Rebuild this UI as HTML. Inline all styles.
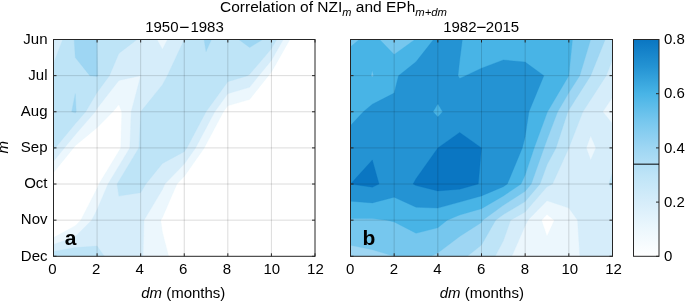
<!DOCTYPE html>
<html><head><meta charset="utf-8"><style>html,body{margin:0;padding:0;background:#fff;width:685px;height:301px;overflow:hidden}svg{display:block;will-change:transform}</style></head>
<body><svg width="685" height="301" viewBox="0 0 685 301" font-family="Liberation Sans, sans-serif" font-size="15" fill="#000">
<rect width="685" height="301" fill="#fff"/>
<clipPath id="ca"><rect x="53.5" y="39.5" width="261.5" height="216.8"/></clipPath>
<g clip-path="url(#ca)">
<rect x="53.5" y="39.5" width="261.5" height="216.8" fill="#ffffff"/>
<path d="M75.29 39.50L97.08 39.50L118.88 39.50L140.67 39.50L162.46 39.50L184.25 39.50L206.04 39.50L227.83 39.50L249.62 39.50L271.42 39.50L289.91 39.50L271.42 72.14L268.51 75.63L249.62 99.52L227.83 105.74L223.47 111.77L206.04 144.62L204.30 147.90L184.25 176.56L176.99 184.03L162.46 217.39L160.78 220.17L162.46 232.21L168.68 256.30L162.46 256.30L140.67 256.30L118.88 256.30L97.08 256.30L75.29 256.30L53.50 256.30L53.50 237.54L75.29 225.64L80.74 220.17L97.08 188.28L98.90 184.03L118.88 150.91L120.69 147.90L121.72 111.77L118.88 104.54L112.93 111.77L97.08 127.83L75.29 145.71L73.48 147.90L53.50 172.74L53.50 147.90L53.50 111.77L53.50 75.63L53.50 39.50Z" fill="#ecf7fd" stroke="#ecf7fd" stroke-width="0.3" fill-rule="evenodd"/>
<path d="M75.29 39.50L97.08 39.50L118.88 39.50L140.67 39.50L157.01 39.50L162.46 49.35L167.49 39.50L184.25 39.50L206.04 39.50L227.83 39.50L249.62 39.50L271.42 39.50L283.30 39.50L271.42 60.48L258.83 75.63L249.62 87.27L227.83 93.70L214.76 111.77L206.04 128.19L195.58 147.90L184.25 164.10L164.88 184.03L162.46 189.59L144.02 220.17L143.09 256.30L140.67 256.30L118.88 256.30L97.08 256.30L75.29 256.30L53.50 256.30L53.50 244.49L75.29 236.59L91.64 220.17L97.08 209.54L107.98 184.03L118.88 165.97L129.77 147.90L131.19 111.77L140.67 75.63L140.67 75.63L140.67 75.63L140.67 75.63L118.88 80.45L97.08 108.55L95.19 111.77L75.29 134.76L64.40 147.90L53.50 161.45L53.50 147.90L53.50 111.77L53.50 75.63L53.50 39.50Z" fill="#d6edfa" stroke="#d6edfa" stroke-width="0.3" fill-rule="evenodd"/>
<path d="M75.29 39.50L97.08 39.50L118.88 39.50L137.03 39.50L118.88 53.40L109.45 75.63L97.08 92.50L85.71 111.77L75.29 123.81L55.32 147.90L53.50 150.16L53.50 147.90L53.50 111.77L53.50 75.63L53.50 63.59L62.68 39.50ZM184.25 39.50L184.25 39.50L206.04 39.50L227.83 39.50L249.62 39.50L271.42 39.50L276.70 39.50L271.42 48.82L249.62 74.30L247.64 75.63L227.83 81.66L206.04 111.77L206.04 111.77L186.87 147.90L184.25 151.64L162.46 163.39L145.86 184.03L140.67 192.64L118.88 196.08L117.06 184.03L118.88 181.02L138.85 147.90L140.67 111.77L140.67 111.77L162.46 84.67L167.30 75.63ZM75.29 247.54L97.08 245.98L104.35 256.30L97.08 256.30L75.29 256.30L53.50 256.30L53.50 251.44Z" fill="#bee4f7" stroke="#bee4f7" stroke-width="0.3" fill-rule="evenodd"/>
<path d="M75.29 39.50L97.08 39.50L97.08 39.50L97.67 75.63L97.08 76.44L89.82 75.63L75.29 57.57L74.14 39.50ZM206.04 39.50L211.49 39.50L206.04 51.54L204.06 39.50ZM249.62 39.50L262.70 39.50L249.62 47.53L238.73 39.50ZM75.29 93.70L76.24 111.77L75.29 112.86L71.66 111.77Z" fill="#9ed6f3" stroke="#9ed6f3" stroke-width="0.3" fill-rule="evenodd"/>
</g>
<clipPath id="cb2"><rect x="350.5" y="39.5" width="262.0" height="216.8"/></clipPath>
<g clip-path="url(#cb2)">
<rect x="350.5" y="39.5" width="262.0" height="216.8" fill="#ffffff"/>
<path d="M372.33 39.50L394.17 39.50L416.00 39.50L437.83 39.50L459.67 39.50L481.50 39.50L503.33 39.50L525.17 39.50L547.00 39.50L568.83 39.50L590.67 39.50L612.50 39.50L612.50 75.63L612.50 111.77L612.50 147.90L612.50 184.03L612.50 220.17L612.50 256.30L590.67 256.30L568.83 256.30L547.00 256.30L528.81 256.30L525.17 253.52L523.95 256.30L503.33 256.30L481.50 256.30L459.67 256.30L437.83 256.30L416.00 256.30L394.17 256.30L372.33 256.30L350.50 256.30L350.50 220.17L350.50 184.03L350.50 147.90L350.50 111.77L350.50 75.63L350.50 39.50ZM541.54 220.17L547.00 236.23L554.28 220.17L547.00 214.61Z" fill="#ecf7fd" stroke="#ecf7fd" stroke-width="0.3" fill-rule="evenodd"/>
<path d="M372.33 39.50L394.17 39.50L416.00 39.50L437.83 39.50L459.67 39.50L481.50 39.50L503.33 39.50L525.17 39.50L547.00 39.50L568.83 39.50L590.67 39.50L612.50 39.50L612.50 75.63L612.50 97.31L602.80 111.77L612.50 123.81L612.50 147.90L612.50 184.03L612.50 220.17L612.50 256.30L590.67 256.30L579.75 256.30L577.57 220.17L568.83 208.12L547.00 200.71L527.90 220.17L525.17 225.73L511.82 256.30L503.33 256.30L481.50 256.30L459.67 256.30L437.83 256.30L416.00 256.30L394.17 256.30L372.33 256.30L350.50 256.30L350.50 220.17L350.50 184.03L350.50 147.90L350.50 111.77L350.50 75.63L350.50 39.50ZM586.30 147.90L590.67 159.94L595.87 147.90L590.67 135.86Z" fill="#d6edfa" stroke="#d6edfa" stroke-width="0.3" fill-rule="evenodd"/>
<path d="M372.33 39.50L394.17 39.50L416.00 39.50L437.83 39.50L459.67 39.50L481.50 39.50L503.33 39.50L525.17 39.50L547.00 39.50L568.83 39.50L590.67 39.50L612.50 39.50L612.50 59.57L606.26 75.63L590.67 99.72L582.87 111.77L568.83 147.90L568.83 147.90L552.46 184.03L547.00 186.81L525.17 211.91L510.61 220.17L503.33 240.81L495.15 256.30L481.50 256.30L459.67 256.30L437.83 256.30L416.00 256.30L394.17 256.30L372.33 256.30L350.50 256.30L350.50 220.17L350.50 184.03L350.50 147.90L350.50 111.77L350.50 75.63L350.50 39.50ZM612.50 171.99L612.50 184.03L612.50 190.06L608.86 184.03Z" fill="#bee4f7" stroke="#bee4f7" stroke-width="0.3" fill-rule="evenodd"/>
<path d="M372.33 39.50L394.17 39.50L416.00 39.50L437.83 39.50L459.67 39.50L481.50 39.50L503.33 39.50L525.17 39.50L547.00 39.50L568.83 39.50L590.67 39.50L605.22 39.50L590.67 75.63L590.67 75.63L568.83 110.05L567.82 111.77L555.99 147.90L547.00 164.76L540.01 184.03L525.17 201.58L503.33 214.59L495.63 220.17L481.50 245.01L467.32 256.30L459.67 256.30L437.83 256.30L416.00 256.30L394.17 256.30L372.33 256.30L350.50 256.30L350.50 220.17L350.50 184.03L350.50 147.90L350.50 111.77L350.50 75.63L350.50 39.50Z" fill="#9ed6f3" stroke="#9ed6f3" stroke-width="0.3" fill-rule="evenodd"/>
<path d="M372.33 39.50L394.17 39.50L416.00 39.50L437.83 39.50L459.67 39.50L481.50 39.50L503.33 39.50L525.17 39.50L547.00 39.50L568.83 39.50L590.67 39.50L579.75 75.63L568.83 92.84L557.66 111.77L547.00 139.87L544.04 147.90L531.28 184.03L525.17 191.26L503.33 205.30L482.78 220.17L481.50 222.42L459.67 236.47L437.83 253.02L431.23 256.30L416.00 256.30L394.17 256.30L394.17 256.30L372.33 249.73L350.50 245.18L350.50 220.17L350.50 184.03L350.50 147.90L350.50 111.77L350.50 75.63L350.50 39.50Z" fill="#76c7ee" stroke="#76c7ee" stroke-width="0.3" fill-rule="evenodd"/>
<path d="M372.33 39.50L379.61 39.50L394.17 54.45L414.96 39.50L416.00 39.50L437.83 39.50L459.67 39.50L481.50 39.50L503.33 39.50L525.17 39.50L547.00 39.50L568.83 39.50L572.47 39.50L568.83 75.63L568.83 75.63L547.51 111.77L547.00 113.10L534.16 147.90L525.17 175.07L521.05 184.03L503.33 196.02L481.50 208.68L459.67 215.00L447.19 220.17L437.83 227.75L416.00 233.31L394.17 221.89L386.89 220.17L372.33 218.60L350.50 218.45L350.50 184.03L350.50 147.90L350.50 111.77L350.50 75.63L350.50 46.73L359.23 39.50ZM371.05 75.63L372.33 76.99L373.55 75.63L372.33 70.47Z" fill="#48b4e6" stroke="#48b4e6" stroke-width="0.3" fill-rule="evenodd"/>
<path d="M416.00 61.82L433.50 39.50L437.83 39.50L459.67 39.50L462.35 39.50L459.67 60.58L457.99 75.63L459.67 78.41L465.73 75.63L481.50 68.18L503.33 59.95L525.17 62.08L543.88 75.63L528.96 111.77L525.17 136.69L522.32 147.90L507.32 184.03L503.33 186.73L481.50 195.91L459.67 202.10L437.83 208.12L416.00 207.18L394.17 197.28L372.33 202.89L350.50 201.24L350.50 184.03L350.50 147.90L350.50 125.53L363.34 111.77L372.33 104.16L394.17 93.12L398.53 75.63ZM433.01 111.77L437.83 117.02L442.65 111.77L437.83 103.79Z" fill="#2493d3" stroke="#2493d3" stroke-width="0.3" fill-rule="evenodd"/>
<path d="M459.67 132.41L481.50 147.90L478.25 184.03L459.67 189.20L437.83 190.92L416.00 185.55L413.06 184.03L416.00 178.65L437.83 147.90L437.83 147.90ZM372.33 159.94L379.05 184.03L372.33 187.18L350.50 184.03Z" fill="#0a76c2" stroke="#0a76c2" stroke-width="0.3" fill-rule="evenodd"/>
</g>
<path d="M97.08 39.5V256.3M140.67 39.5V256.3M184.25 39.5V256.3M227.83 39.5V256.3M271.42 39.5V256.3M53.5 75.63H315.0M53.5 111.77H315.0M53.5 147.90H315.0M53.5 184.03H315.0M53.5 220.17H315.0" stroke="#000" stroke-opacity="0.14" stroke-width="1" fill="none"/>
<path d="M53.50 256.3v-3M53.50 39.5v3M97.08 256.3v-3M97.08 39.5v3M140.67 256.3v-3M140.67 39.5v3M184.25 256.3v-3M184.25 39.5v3M227.83 256.3v-3M227.83 39.5v3M271.42 256.3v-3M271.42 39.5v3M315.00 256.3v-3M315.00 39.5v3M53.5 39.50h3M315.0 39.50h-3M53.5 75.63h3M315.0 75.63h-3M53.5 111.77h3M315.0 111.77h-3M53.5 147.90h3M315.0 147.90h-3M53.5 184.03h3M315.0 184.03h-3M53.5 220.17h3M315.0 220.17h-3M53.5 256.30h3M315.0 256.30h-3" stroke="#262626" stroke-width="1" fill="none"/>
<rect x="53.5" y="39.5" width="261.5" height="216.8" fill="none" stroke="#262626" stroke-width="1"/>
<text x="52.50" y="274" text-anchor="middle">0</text>
<text x="96.08" y="274" text-anchor="middle">2</text>
<text x="139.67" y="274" text-anchor="middle">4</text>
<text x="183.25" y="274" text-anchor="middle">6</text>
<text x="226.83" y="274" text-anchor="middle">8</text>
<text x="271.82" y="274" text-anchor="middle">10</text>
<text x="315.40" y="274" text-anchor="middle">12</text>
<text x="47.5" y="43.80" text-anchor="end">Jun</text>
<text x="47.5" y="79.93" text-anchor="end">Jul</text>
<text x="47.5" y="116.07" text-anchor="end">Aug</text>
<text x="47.5" y="152.20" text-anchor="end">Sep</text>
<text x="47.5" y="188.33" text-anchor="end">Oct</text>
<text x="47.5" y="224.47" text-anchor="end">Nov</text>
<text x="47.5" y="260.60" text-anchor="end">Dec</text>
<text x="183.25" y="297.5" text-anchor="middle"><tspan font-style="italic">dm</tspan> (months)</text>
<path d="M394.17 39.5V256.3M437.83 39.5V256.3M481.50 39.5V256.3M525.17 39.5V256.3M568.83 39.5V256.3M350.5 75.63H612.5M350.5 111.77H612.5M350.5 147.90H612.5M350.5 184.03H612.5M350.5 220.17H612.5" stroke="#000" stroke-opacity="0.14" stroke-width="1" fill="none"/>
<path d="M350.50 256.3v-3M350.50 39.5v3M394.17 256.3v-3M394.17 39.5v3M437.83 256.3v-3M437.83 39.5v3M481.50 256.3v-3M481.50 39.5v3M525.17 256.3v-3M525.17 39.5v3M568.83 256.3v-3M568.83 39.5v3M612.50 256.3v-3M612.50 39.5v3M350.5 39.50h3M612.5 39.50h-3M350.5 75.63h3M612.5 75.63h-3M350.5 111.77h3M612.5 111.77h-3M350.5 147.90h3M612.5 147.90h-3M350.5 184.03h3M612.5 184.03h-3M350.5 220.17h3M612.5 220.17h-3M350.5 256.30h3M612.5 256.30h-3" stroke="#262626" stroke-width="1" fill="none"/>
<rect x="350.5" y="39.5" width="262.0" height="216.8" fill="none" stroke="#262626" stroke-width="1"/>
<text x="350.20" y="274" text-anchor="middle">0</text>
<text x="393.87" y="274" text-anchor="middle">2</text>
<text x="437.53" y="274" text-anchor="middle">4</text>
<text x="481.20" y="274" text-anchor="middle">6</text>
<text x="524.87" y="274" text-anchor="middle">8</text>
<text x="569.83" y="274" text-anchor="middle">10</text>
<text x="613.50" y="274" text-anchor="middle">12</text>
<text x="481.80" y="297.5" text-anchor="middle"><tspan font-style="italic">dm</tspan> (months)</text>
<text y="31.5"><tspan x="145.2">1950</tspan><tspan x="190.4">1983</tspan></text>
<rect x="180.1" y="26.75" width="8.5" height="1.25" fill="#000"/><rect x="477.2" y="26.75" width="8.4" height="1.25" fill="#000"/>
<text y="31.5"><tspan x="443.2">1982</tspan><tspan x="485.8">2015</tspan></text>
<text x="220" y="12.2" font-size="15.5">Correlation of NZI<tspan font-size="11" font-style="italic" dy="3.3">m</tspan><tspan dy="-3.3"> and EPh</tspan><tspan font-size="11.3" font-style="italic" dy="3.3">m+dm</tspan></text>
<text transform="translate(8.3,147.3) rotate(-90)" text-anchor="middle" font-style="italic">m</text>
<text x="64.8" y="244.8" font-weight="bold" font-size="21">a</text>
<text x="362.4" y="244.8" font-weight="bold" font-size="21">b</text>
<defs><linearGradient id="cb" x1="0" y1="1" x2="0" y2="0"><stop offset="0" stop-color="#ffffff"/><stop offset="0.1250" stop-color="#ecf7fd"/><stop offset="0.2500" stop-color="#d6edfa"/><stop offset="0.3750" stop-color="#bee4f7"/><stop offset="0.5000" stop-color="#9ed6f3"/><stop offset="0.6250" stop-color="#76c7ee"/><stop offset="0.7500" stop-color="#48b4e6"/><stop offset="0.8750" stop-color="#2493d3"/><stop offset="1.0000" stop-color="#0a76c2"/></linearGradient></defs>
<rect x="633.5" y="39.5" width="25.5" height="216.8" fill="url(#cb)" stroke="#262626" stroke-width="1"/>
<path d="M659.0 256.30h-3" stroke="#262626"/>
<text x="664" y="260.90">0</text>
<path d="M659.0 202.10h-3" stroke="#262626"/>
<text x="664" y="206.70">0.2</text>
<path d="M659.0 147.90h-3" stroke="#262626"/>
<text x="664" y="152.50">0.4</text>
<path d="M659.0 93.70h-3" stroke="#262626"/>
<text x="664" y="98.30">0.6</text>
<path d="M659.0 39.50h-3" stroke="#262626"/>
<text x="664" y="44.10">0.8</text>
<path d="M633.5 164.16H659.0" stroke="#000" stroke-width="1"/>
</svg></body></html>
